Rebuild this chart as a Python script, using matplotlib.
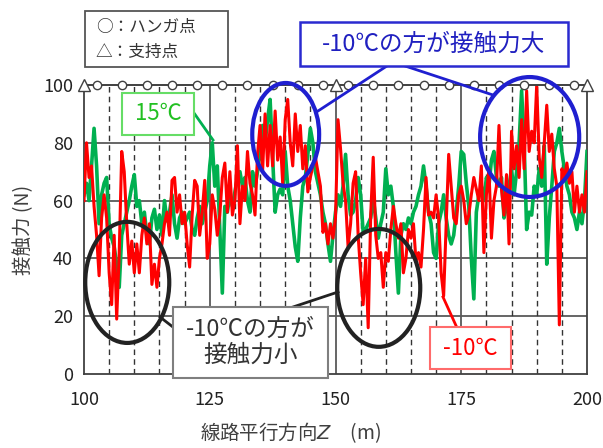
import numpy as np
import matplotlib
matplotlib.use("Agg")
import matplotlib.pyplot as plt
from matplotlib.patches import Ellipse, Rectangle
from matplotlib.lines import Line2D

plt.rcParams['font.family'] = ['Noto Sans CJK JP', 'DejaVu Sans']

# contact force, every 0.5 m from 100 m to 200 m
force_m10 = [60, 80, 68, 72, 58, 48, 34, 54, 62, 54, 35, 24, 48, 19, 42, 77, 70, 52, 38, 46,
             35, 45, 35, 48, 54, 45, 52, 31, 38, 30, 40, 45, 52, 56, 48, 67, 68, 56, 62, 52,
             56, 45, 37, 55, 67, 65, 48, 56, 67, 40, 45,
             62, 57, 48, 55, 68, 73, 56, 70, 55, 60, 79, 52, 65, 60, 77, 66, 62, 55, 76, 86,
             70, 90, 72, 86, 72, 91, 74, 82, 66, 88, 95, 80, 72, 90, 77, 86, 71, 79, 63, 68,
             72, 75, 70, 65, 49, 52, 45, 52, 47, 54,
             88, 78, 66, 60, 44, 52, 66, 70, 48, 35, 24, 40, 16, 55, 75, 48, 40, 42, 30, 42,
             39, 50, 58, 52, 47, 52, 35, 40, 50, 47, 52, 39, 42, 37, 50, 68, 55, 56, 54, 62,
             54, 35, 27, 52, 76, 65, 54, 52, 62, 65,
             60, 52, 55, 62, 68, 64, 60, 72, 42, 62, 71, 47, 60, 65, 86, 64, 55, 69, 45, 84,
             71, 79, 68, 88, 71, 98, 77, 84, 80, 100, 75, 68, 80, 93, 77, 83, 71, 65, 17, 71,
             68, 73, 66, 70, 56, 65, 56, 62, 56, 70]
force_15 = [62, 66, 60, 72, 85, 72, 52, 62, 66, 68, 52, 47, 44, 38, 30, 48, 52, 56, 60, 65,
            69, 58, 60, 52, 56, 48, 45, 54, 57, 50, 55, 48, 60, 53, 56, 62, 52, 47, 54, 56,
            52, 54, 56, 50, 48, 54, 58, 52, 56, 60, 72,
            80, 65, 72, 50, 28, 58, 56, 62, 58, 63, 68, 70, 65, 68, 60, 56, 70, 65, 70, 77,
            86, 80, 88, 95, 75, 56, 62, 64, 62, 77, 65, 60, 52, 44, 39, 54, 65, 68, 76, 85,
            80, 70, 66, 62, 56, 52, 45, 39, 48, 56,
            62, 58, 65, 76, 62, 55, 56, 60, 68, 62, 49, 50, 52, 54, 61, 54, 47, 52, 56, 71,
            62, 65, 58, 42, 28, 48, 52, 50, 54, 52, 56, 58, 62, 65, 72, 65, 56, 52, 42, 40,
            52, 56, 62, 54, 48, 45, 48, 56, 65, 77,
            76, 66, 58, 40, 26, 56, 62, 65, 60, 68, 65, 74, 77, 68, 65, 68, 54, 58, 65, 71,
            62, 70, 80, 98, 80, 50, 56, 55, 65, 62, 71, 65, 79, 38, 54, 65, 77, 80, 85, 77,
            71, 65, 62, 56, 54, 50, 56, 52, 60, 77]
z = np.linspace(100, 200, len(force_m10))

hanger_z = [102.5, 107.5, 112.5, 117.5, 122.5, 127.5, 132.5, 137.5, 142.5, 147.5,
            152.5, 157.5, 162.5, 167.5, 172.5, 177.5, 182.5, 187.5, 192.5, 197.5]
support_z = [100, 150, 200]
dash_z = [105, 110, 115, 120, 130, 135, 140, 145, 155, 160, 165, 170, 180, 185, 190, 195]
grid_z = [125, 150, 175]
xticks = [100, 125, 150, 175, 200]
yticks = [0, 20, 40, 60, 80, 100]

W, H = 603, 448
fig = plt.figure(figsize=(W / 100, H / 100), dpi=100)
ax = fig.add_axes([84 / W, 1 - 374 / H, (587 - 84) / W, (374 - 85) / H])


def fp(x, y):
    return x / W, 1 - y / H


ax.set_xlim(100, 200)
ax.set_ylim(0, 100)
for yv in yticks[1:-1]:
    ax.axhline(yv, color='#595959', lw=1.3, zorder=1)
for zv in grid_z:
    ax.axvline(zv, color='#595959', lw=1.3, zorder=1)
for zv in dash_z:
    ax.axvline(zv, color='#333333', lw=1.0, ls=(0, (4, 3)), zorder=1)

ax.plot(z, force_15, color='#00b050', lw=2.6, zorder=3)
ax.plot(z, force_m10, color='#ff0000', lw=2.2, zorder=4)

ax.plot([100, 200], [100, 100], color='#404040', lw=1.4, zorder=5, clip_on=False)
ax.plot(hanger_z, [100] * len(hanger_z), 'o', ms=6, mfc='white', mec='#404040', mew=1.0,
        zorder=6, clip_on=False)
ax.plot(support_z, [100] * len(support_z), '^', ms=9, mfc='white', mec='#404040', mew=1.0,
        zorder=6, clip_on=False)

for s in ['left', 'right', 'bottom']:
    ax.spines[s].set_color('#404040')
    ax.spines[s].set_linewidth(1.3)
ax.spines['top'].set_visible(False)
ax.set_xticks(xticks)
ax.set_yticks(yticks)
ax.tick_params(length=0, labelsize=13, colors='#222222')
ax.tick_params(axis='x', pad=12)
ax.tick_params(axis='y', pad=8)
ax.set_ylabel('接触力 (N)', fontsize=14, color='#404040', labelpad=6)
fig.text(290 / W, 1 - 433 / H, '線路平行方向$Z$　(m)', fontsize=14, color='#404040',
         ha='center', va='center')

# ellipses
ax.add_patch(Ellipse((140.1, 82.9), 13.3, 35.6, fill=False, ec='#1f1fd0', lw=3, zorder=7, clip_on=False))
ax.add_patch(Ellipse((188.6, 82.0), 19.7, 41.5, fill=False, ec='#1f1fd0', lw=3, zorder=7, clip_on=False))
ax.add_patch(Ellipse((108.6, 31.7), 16.7, 41.9, fill=False, ec='#222222', lw=3, zorder=7, clip_on=False))
ax.add_patch(Ellipse((158.6, 29.8), 16.5, 40.8, fill=False, ec='#222222', lw=3, zorder=7, clip_on=False))


def leader(p0, p1, color, lw=2):
    x0, y0 = fp(*p0)
    x1, y1 = fp(*p1)
    fig.add_artist(Line2D([x0, x1], [y0, y1], color=color, lw=lw, zorder=8))


def box(x0, y0, x1, y1, ec, lw=1.5):
    bx, by = fp(x0, y1)
    fig.add_artist(Rectangle((bx, by), (x1 - x0) / W, (y1 - y0) / H, transform=fig.transFigure,
                             fc='white', ec=ec, lw=lw, zorder=9))


leader((393, 62), (318, 111), '#1f1fd0')
leader((393, 62), (493, 95), '#1f1fd0')
leader((191, 341), (160, 317), '#222222')
leader((191, 341), (338, 292), '#222222')
leader((458, 330), (443, 297), '#ff0000')
leader((194, 113), (213, 140), '#00b050')

box(300, 22, 568, 66, '#2a2ad0', 1.8)
fig.text(*fp(434, 44), '-10℃の方が接触力大', fontsize=17, color='#2020c0', ha='center', va='center', zorder=10)

box(173, 307, 328, 378, '#7f7f7f', 1.5)
fig.text(*fp(250.5, 342.5), '-10℃の方が\n接触力小', fontsize=17, color='#333333', ha='center', va='center',
         linespacing=1.15, zorder=10)

box(430, 327, 511, 369, '#ff6b6b', 1.5)
fig.text(*fp(470.5, 348), '-10℃', fontsize=16, color='#ff0000', ha='center', va='center', zorder=10)

box(122, 93, 194, 135, '#66dd66', 1.5)
fig.text(*fp(158, 114), '15℃', fontsize=16, color='#22c022', ha='center', va='center', zorder=10)

box(85, 11, 228, 67, '#555555', 1.3)
fig.text(*fp(96, 27), '○：ハンガ点', fontsize=12, color='#333333', ha='left', va='center', zorder=10)
fig.text(*fp(96, 52), '△：支持点', fontsize=12, color='#333333', ha='left', va='center', zorder=10)

fig.savefig('out.png', dpi=100)
